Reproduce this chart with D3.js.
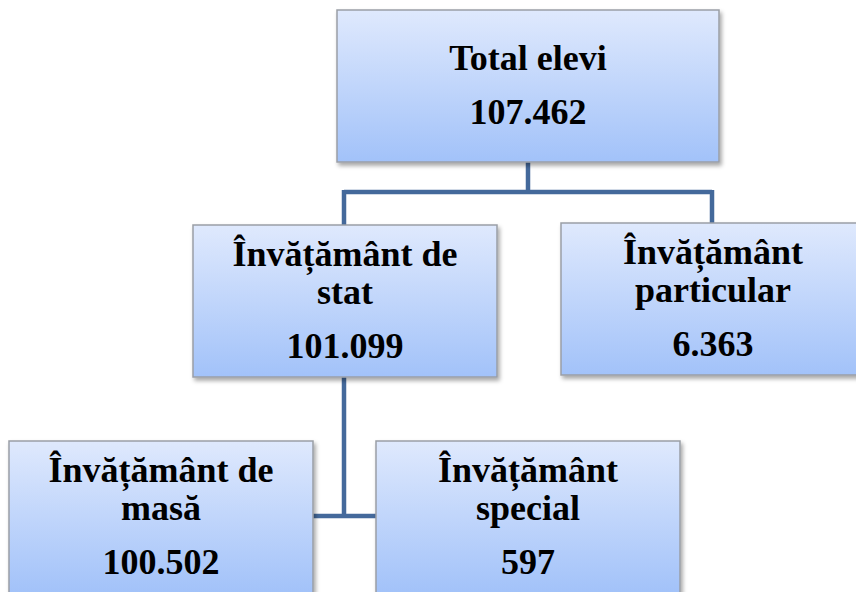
<!DOCTYPE html>
<html>
<head>
<meta charset="utf-8">
<script src="https://cdn.jsdelivr.net/npm/d3@7"></script>
<style>
  html, body { margin: 0; padding: 0; background: #fff; }
  svg { display: block; }
</style>
</head>
<body>
<svg id="chart" width="856" height="592"></svg>
<script>
// org chart data
var nodeIds = ["total", "stat", "particular", "masa", "special"];
var nodeLabels = [
    ["Total elevi"],
    ["Învățământ de", "stat"],
    ["Învățământ", "particular"],
    ["Învățământ de", "masă"],
    ["Învățământ", "special"]
];
var nodeValues = [107462, 101099, 6363, 100502, 597];
var nodeParents = [null, "total", "total", "stat", "stat"];

// romanian style number: dot as thousands separator
function fmt(v) {
    return String(v).replace(/\B(?=(\d{3})+(?!\d))/g, ".");
}

// box placement (layout, not data)
var layout = {
    total:      {x: 337, y: 10,  w: 382, h: 152},
    stat:       {x: 193, y: 225, w: 304, h: 152},
    particular: {x: 561, y: 223, w: 304, h: 152},
    masa:       {x: 9,   y: 441, w: 304, h: 152},
    special:    {x: 376, y: 441, w: 304, h: 152}
};

var nodes = nodeIds.map(function(id, i) {
    return {id: id, labels: nodeLabels[i], value: nodeValues[i], parent: nodeParents[i], box: layout[id]};
});
var byId = {};
nodes.forEach(function(n) { byId[n.id] = n; });

var svg = d3.select("#chart");
var defs = svg.append("defs");

var grad = defs.append("linearGradient")
    .attr("id", "boxfill")
    .attr("x1", 0).attr("y1", 0).attr("x2", 0).attr("y2", 1);
grad.append("stop").attr("offset", "0%").attr("stop-color", "#dfe9fd");
grad.append("stop").attr("offset", "100%").attr("stop-color", "#a2c2f9");

var shadow = defs.append("filter")
    .attr("id", "shadow")
    .attr("x", "-10%").attr("y", "-10%").attr("width", "130%").attr("height", "130%");
shadow.append("feDropShadow")
    .attr("dx", 2).attr("dy", 3)
    .attr("stdDeviation", 2)
    .attr("flood-color", "#000")
    .attr("flood-opacity", 0.35);

// connectors
var links = svg.append("g").attr("class", "links")
    .attr("fill", "none")
    .attr("stroke", "#44699b")
    .attr("stroke-width", 4.5);

// top level: stem down, bar across, drops to children
var kidsOfTotal = nodes.filter(function(n) { return n.parent === "total"; });
var t = byId.total.box;
var barY = 192;
links.append("path").attr("d", function() {
    var cx = t.x + t.w / 2;
    var xs = kidsOfTotal.map(function(k) { return k.box.x + k.box.w / 2 - 1; });
    var d = "M" + cx + "," + (t.y + t.h) + "V" + barY;
    d += "M" + d3.min(xs) + "," + barY + "H" + d3.max(xs);
    kidsOfTotal.forEach(function(k, i) {
        d += "M" + xs[i] + "," + (barY - 2) + "V" + k.box.y;
    });
    return d;
});

// stat level: stem down between its two children, bar joining their sides
var s = byId.stat.box;
var kidsOfStat = nodes.filter(function(n) { return n.parent === "stat"; });
var stemX = s.x + s.w / 2 - 1;
var joinY = 516;
links.append("path").attr("d", function() {
    var left = kidsOfStat[0].box, right = kidsOfStat[1].box;
    return "M" + stemX + "," + (s.y + s.h) + "V" + joinY +
        "M" + (left.x + left.w) + "," + joinY + "H" + right.x;
});

// boxes
svg.append("g").attr("class", "nodes")
    .selectAll("rect")
    .data(nodes)
    .join("rect")
        .attr("x", function(d) { return d.box.x; })
        .attr("y", function(d) { return d.box.y; })
        .attr("width", function(d) { return d.box.w; })
        .attr("height", function(d) { return d.box.h; })
        .attr("fill", "url(#boxfill)")
        .attr("stroke", "#9a9ea6")
        .attr("stroke-width", 1.5)
        .attr("filter", "url(#shadow)");

// text lines, centred in each box
var lineGap = 38, numberGap = 54, blockCenter = 87;
var lines = [];
nodes.forEach(function(d) {
    var span = (d.labels.length - 1) * lineGap + numberGap;
    var y0 = d.box.y + blockCenter - span / 2;
    var cx = d.box.x + d.box.w / 2;
    d.labels.forEach(function(str, i) {
        lines.push({cx: cx, y: y0 + i * lineGap, str: str});
    });
    lines.push({cx: cx, y: y0 + span, str: fmt(d.value)});
});

svg.append("g").attr("class", "labels")
    .selectAll("text")
    .data(lines)
    .join("text")
        .attr("x", function(d) { return d.cx; })
        .attr("y", function(d) { return d.y; })
        .attr("text-anchor", "middle")
        .style("font-family", "'Tinos', 'Liberation Serif', 'Noto Serif', serif")
        .style("font-weight", "bold")
        .style("font-size", "36px")
        .style("fill", "#000")
        .text(function(d) { return d.str; });
</script>
</body>
</html>
